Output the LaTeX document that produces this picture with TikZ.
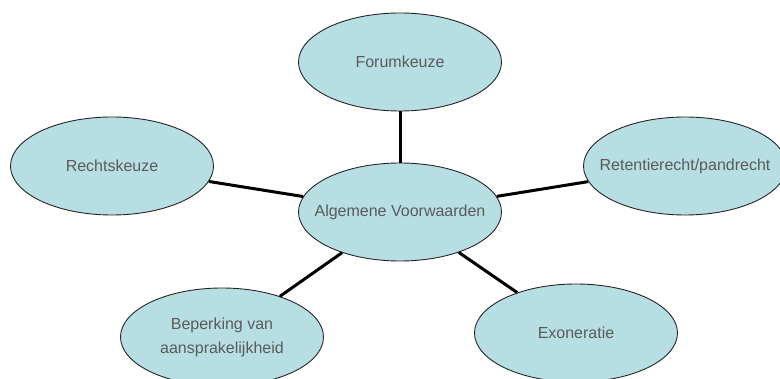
\documentclass[tikz,border=0pt]{standalone}
\usepackage{fontspec}
\setmainfont{Liberation Sans}
\usetikzlibrary{shapes.geometric}
\definecolor{bubble}{RGB}{183,223,227}
\definecolor{txt}{RGB}{90,90,90}
\tikzset{
  bubble/.style={ellipse, draw=black!85, line width=0.9pt, fill=bubble,
    minimum width=203pt, minimum height=98pt, inner sep=-25pt,
    text=txt, font=\fontsize{16}{24}\selectfont, align=center},
  link/.style={line width=3pt, black}
}
\begin{document}
\begin{tikzpicture}[x=1pt,y=-1pt]
\useasboundingbox (0,0) rectangle (780,379);
\clip (0,0) rectangle (780,379);
\node[bubble] (c) at (400,212) {Algemene Voorwaarden};
\node[bubble] (f) at (400,62) {Forumkeuze};
\node[bubble] (r) at (112,166) {Rechtskeuze};
\node[bubble] (p) at (685,166) {Retentierecht/pandrecht};
\node[bubble] (b) at (222,337) {Beperking van\\aansprakelijkheid};
\node[bubble] (e) at (576,333) {Exoneratie};
\draw[link] (c) -- (f);
\draw[link] (c) -- (r);
\draw[link] (c) -- (p);
\draw[link] (c) -- (b);
\draw[link] (c) -- (e);
\end{tikzpicture}
\end{document}
